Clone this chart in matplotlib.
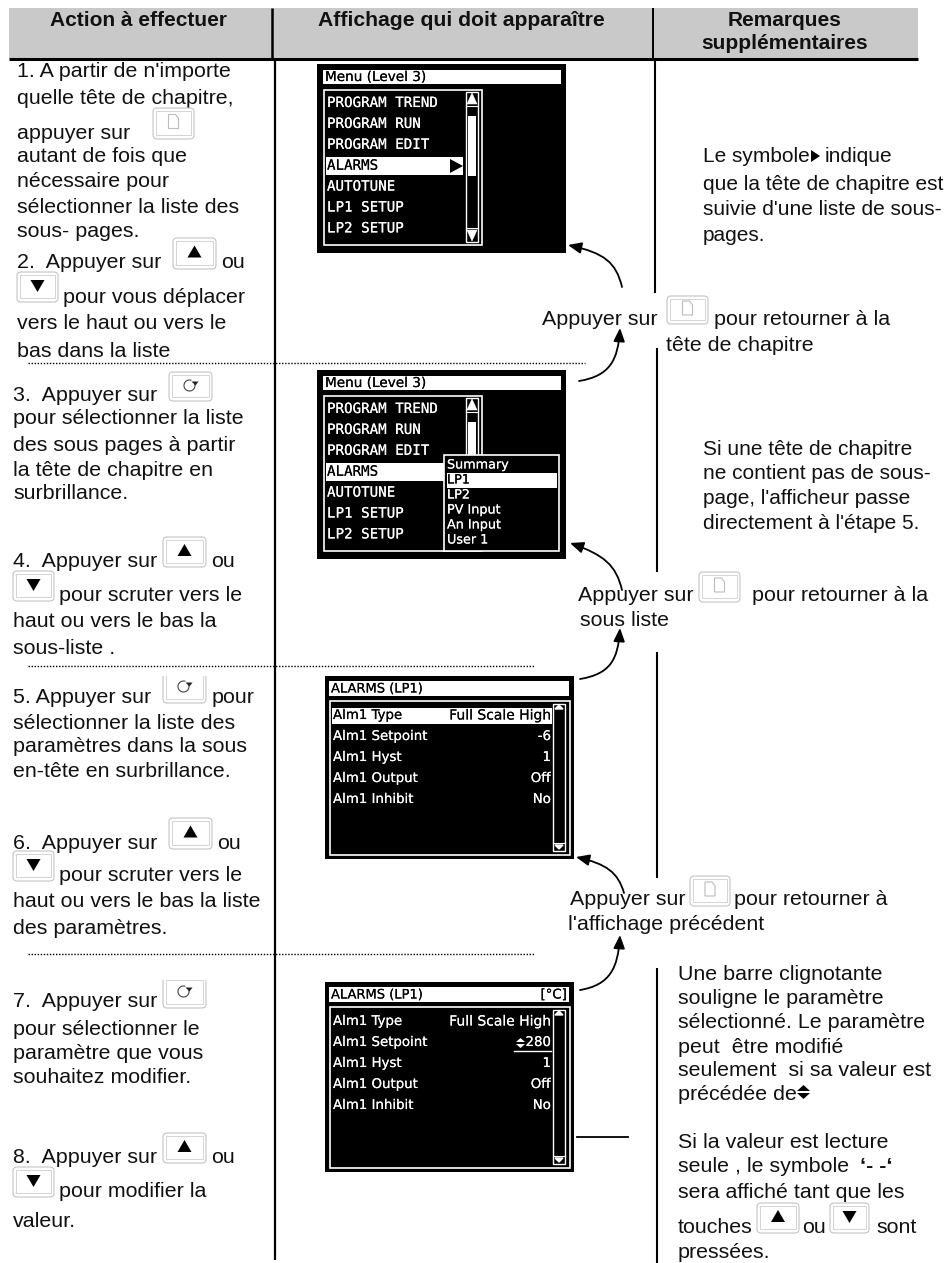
import matplotlib
matplotlib.use("Agg")
import matplotlib.pyplot as plt
import matplotlib.patheffects as pe
from matplotlib.patches import Rectangle, FancyBboxPatch, FancyArrowPatch, Arc, Polygon
from matplotlib.path import Path

# Textes de la page
HEADERS = ["Action à effectuer", "Affichage qui doit apparaître", "Remarques", "supplémentaires"]
STEP_1 = ["1. A partir de n'importe", "quelle tête de chapitre,", "appuyer sur", "autant de fois que",
          "nécessaire pour", "sélectionner la liste des", "sous- pages."]
STEP_2 = ["2.  Appuyer sur", "ou", "pour vous déplacer", "vers le haut ou vers le", "bas dans la liste"]
STEP_3 = ["3.  Appuyer sur", "pour sélectionner la liste", "des sous pages à partir",
          "la tête de chapitre en", "surbrillance."]
STEP_4 = ["4.  Appuyer sur", "ou", "pour scruter vers le", "haut ou vers le bas la", "sous-liste ."]
STEP_5 = ["5. Appuyer sur", "pour", "sélectionner la liste des", "paramètres dans la sous",
          "en-tête en surbrillance."]
STEP_6 = ["6.  Appuyer sur", "ou", "pour scruter vers le", "haut ou vers le bas la liste", "des paramètres."]
STEP_7 = ["7.  Appuyer sur", "pour sélectionner le", "paramètre que vous", "souhaitez modifier."]
STEP_8 = ["8.  Appuyer sur", "ou", "pour modifier la", "valeur."]

NOTE_1 = ["Le symbole", "indique", "que la tête de chapitre est", "suivie d'une liste de sous-", "pages."]
NOTE_2 = ["Si une tête de chapitre", "ne contient pas de sous-", "page, l'afficheur passe",
          "directement à l'étape 5."]
NOTE_3 = ["Une barre clignotante", "souligne le paramètre", "sélectionné. Le paramètre",
          "peut  être modifié", "seulement  si sa valeur est", "précédée de"]
NOTE_4 = ["Si la valeur est lecture", "seule , le symbole", "‘- -‘", "sera affiché tant que les",
          "touches", "ou", "sont", "pressées."]
BACK_1 = ["Appuyer sur", "pour retourner à la", "tête de chapitre"]
BACK_2 = ["Appuyer sur", "pour retourner à la", "sous liste"]
BACK_3 = ["Appuyer sur", "pour retourner à", "l'affichage précédent"]

MENU_TITLE = "Menu (Level 3)"
MENU_ITEMS = ["PROGRAM TREND", "PROGRAM RUN", "PROGRAM EDIT", "ALARMS", "AUTOTUNE", "LP1 SETUP", "LP2 SETUP"]
SUB_ITEMS = ["Summary", "LP1", "LP2", "PV Input", "An Input", "User 1"]
PARAM_TITLE = "ALARMS (LP1)"
PARAM_NAMES = ["Alm1 Type", "Alm1 Setpoint", "Alm1 Hyst", "Alm1 Output", "Alm1 Inhibit"]
PARAM_VALUES_A = ["Full Scale High", "-6", "1", "Off", "No"]
PARAM_VALUES_B = ["Full Scale High", "280", "1", "Off", "No"]

FONT = "Liberation Sans"
SIZE = 15.4
SIZE_NOTE = 15.0
GREY = "#c9c9c9"

fig = plt.figure(figsize=(9.44, 12.63), dpi=100)
ax = fig.add_axes([0, 0, 1, 1])
ax.set_xlim(0, 944)
ax.set_ylim(1263, 0)
ax.axis("off")


def txt(x, y, s, **kw):
    kw.setdefault("family", FONT)
    kw.setdefault("fontsize", SIZE)
    kw.setdefault("color", "#111111")
    kw.setdefault("va", "baseline")
    return ax.text(x, y, s, **kw)


def lines(x, ys, strings, **kw):
    for y, s in zip(ys, strings):
        txt(x, y, s, **kw)


def vline(x, y0, y1, lw=1.5):
    ax.plot([x, x], [y0, y1], color="black", lw=lw, solid_capstyle="butt")


def dots(x0, x1, y):
    ax.plot([x0, x1], [y, y], color="black", lw=1.0, ls=(0, (1, 1.2)))


def button(x0, y0, x1, y1, kind, clip_top=None):
    outer = FancyBboxPatch((x0 + 3, y0 + 3), x1 - x0 - 6, y1 - y0 - 6, boxstyle="round,pad=3,rounding_size=4",
                           fc="white", ec="#c4c4c4", lw=0.8, zorder=3)
    inner = Rectangle((x0 + 3, y0 + 3), x1 - x0 - 6, y1 - y0 - 7, fc="white", ec="#d4d4d4", lw=0.7, zorder=3)
    ax.add_patch(outer)
    ax.add_patch(inner)
    if clip_top is not None:
        clip = Rectangle((x0 - 3, clip_top), x1 - x0 + 6, y1 - clip_top + 3, transform=ax.transData)
        outer.set_clip_path(clip)
        inner.set_clip_path(clip)
    cx = (x0 + x1) / 2
    cy = (y0 + y1) / 2 - 1
    if kind == "up":
        ax.add_patch(Polygon([(cx - 7, cy + 5), (cx + 7, cy + 5), (cx, cy - 7)], fc="black", ec="none", zorder=4))
    elif kind == "down":
        ax.add_patch(Polygon([(cx - 7, cy - 6), (cx + 7, cy - 6), (cx, cy + 6)], fc="black", ec="none", zorder=4))
    elif kind == "page":
        ax.add_patch(Polygon([(cx - 5, cy - 8), (cx + 2, cy - 8), (cx + 5, cy - 4), (cx + 5, cy + 6), (cx - 5, cy + 6)],
                             fc="white", ec="#bcbcbc", lw=0.8, zorder=4))
    elif kind == "scroll":
        ax.add_patch(Arc((cx - 1, cy), 11, 11, theta1=-20, theta2=290, ec="#444444", lw=0.8, zorder=4))
        ax.add_patch(Polygon([(cx + 1, cy - 4), (cx + 8, cy - 4), (cx + 5, cy + 0)], fc="#222222", ec="none", zorder=4))


def curved(points):
    # points : queue, controle, controle, pointe
    path = Path(points, [Path.MOVETO, Path.CURVE4, Path.CURVE4, Path.CURVE4])
    ax.add_patch(FancyArrowPatch(path=path, arrowstyle="-|>,head_length=8,head_width=3.4", color="black",
                                 lw=1.3, mutation_scale=1, shrinkA=0, shrinkB=0, zorder=5))


def box(x0, y0, x1, y1, fc, ec="none", lw=1.0, zorder=2):
    ax.add_patch(Rectangle((x0, y0), x1 - x0, y1 - y0, fc=fc, ec=ec, lw=lw, zorder=zorder))


def lcd(x, y, s, color="white", size=9.6, mono=False, ha="left"):
    fam = "DejaVu Sans Mono" if mono else "DejaVu Sans"
    t = ax.text(x, y, s, family=fam, fontsize=size, color=color, va="center", ha=ha, zorder=6)
    t.set_path_effects([pe.withStroke(linewidth=0.08, foreground=color)])


def scrollbar(x0, x1, y0, y1, knob0, knob1):
    box(x0, y0, x1, y1, "black", ec="white", lw=1.0, zorder=3)
    box(x0 + 2, knob0, x1 - 2, knob1, "white", zorder=4)
    cx = (x0 + x1) / 2
    h = 12
    ax.add_patch(Polygon([(cx - 5, y0 + h), (cx + 5, y0 + h), (cx, y0 + 1)], fc="white", ec="white", lw=0.4, zorder=4))
    ax.add_patch(Polygon([(cx - 5, y1 - h), (cx + 5, y1 - h), (cx, y1 - 1)], fc="white", ec="white", lw=0.4, zorder=4))
    ax.plot([x0, x1], [y0 + h + 2, y0 + h + 2], color="white", lw=0.8, zorder=4)
    ax.plot([x0, x1], [y1 - h - 2, y1 - h - 2], color="white", lw=0.8, zorder=4)


def menu_screen(top):
    box(317, top, 566, top + 189, "black")
    box(323, top + 6, 561, top + 20, "white", zorder=3)
    lcd(325, top + 13, MENU_TITLE, color="black", size=9.8)
    box(324, top + 26, 482, top + 181, "black", ec="white", lw=1.2, zorder=3)
    for i, s in enumerate(MENU_ITEMS):
        yy = top + 39 + i * 20.9
        if s == "ALARMS":
            box(326, yy - 9, 463, yy + 9, "white", zorder=4)
            lcd(327, yy, s, color="black", mono=True, size=10.2)
        else:
            lcd(327, yy, s, mono=True, size=10.2)
    scrollbar(466, 478, top + 28, top + 178, top + 52, top + 112)


def param_screen(top, bottom, values, highlight, unit=False):
    box(325, top, 574, bottom, "black")
    box(329, top + 5, 569, top + 20, "white", zorder=3)
    lcd(331, top + 13, PARAM_TITLE, color="black", size=9.4)
    if unit:
        lcd(567, top + 13, "[°C]", color="black", size=9.6, ha="right")
    box(330, top + 25, 570, bottom - 4, "black", ec="white", lw=1.2, zorder=3)
    for i, (n, v) in enumerate(zip(PARAM_NAMES, values)):
        yy = top + 39.5 + i * 21
        col = "white"
        if highlight and i == 0:
            box(332, yy - 7.5, 552, yy + 8, "white", zorder=4)
            col = "black"
        lcd(333, yy, n, color=col)
        lcd(551, yy, v, color=col, ha="right", size=10 if i == 0 else 9.6)
    # barre de defilement fine
    box(553, top + 28, 565, bottom - 8, "black", ec="white", lw=1.0, zorder=4)
    ax.add_patch(Polygon([(555, top + 33), (563, top + 33), (559, top + 29)], fc="white", ec="white", zorder=5))
    ax.add_patch(Polygon([(555, bottom - 14), (563, bottom - 14), (559, bottom - 10)], fc="white", ec="white", zorder=5))
    ax.plot([553, 565], [bottom - 16, bottom - 16], color="white", lw=0.8, zorder=5)


def updown(x, y, w, h, color, zorder=7):
    # double fleche haut/bas, symbole absent des polices installees
    ax.add_patch(Polygon([(x, y - 1), (x + w, y - 1), (x + w / 2, y - 1 - h)], fc=color, ec="none", zorder=zorder))
    ax.add_patch(Polygon([(x, y + 1), (x + w, y + 1), (x + w / 2, y + 1 + h)], fc=color, ec="none", zorder=zorder))


# En-tete
box(9, 8, 918, 58, GREY, zorder=0)
ax.plot([9, 918], [59, 59], color="black", lw=2.2, solid_capstyle="butt")
txt(139, 26, HEADERS[0], ha="center", fontweight="bold", fontsize=15.0)
txt(461, 26, HEADERS[1], ha="center", fontweight="bold", fontsize=15.2)
txt(785, 26, HEADERS[2], ha="center", fontweight="bold", fontsize=15.0)
txt(785, 49, HEADERS[3], ha="center", fontweight="bold", fontsize=15.0)

# Separateurs de colonnes
vline(272, 8, 58, lw=1.8)
vline(275, 59, 1260, lw=1.6)
vline(653, 8, 58, lw=1.4)
vline(655, 60, 293)
vline(657, 348, 572)
vline(657, 652, 878)
vline(657, 968, 1263)
ax.plot([577, 628], [1137, 1137], color="black", lw=1.3)
dots(28, 585, 363)
dots(28, 535, 666)
dots(28, 535, 954)

# Colonne de gauche
lines(17, [77, 104, 139, 162, 187, 213, 237], STEP_1)
button(153, 108, 194, 139, "page")
txt(17, 268, STEP_2[0])
button(173, 238, 216, 269, "up")
txt(221, 268, STEP_2[1])
button(17, 272, 58, 302, "down")
txt(63, 303, STEP_2[2])
lines(17, [329, 357], STEP_2[3:])

lines(13, [401, 424, 451, 476, 499], STEP_3)
button(169, 372, 212, 401, "scroll")

txt(13, 567, STEP_4[0])
button(163, 537, 206, 567, "up")
txt(211, 567, STEP_4[1])
button(13, 571, 54, 601, "down")
txt(59, 601, STEP_4[2])
lines(13, [627, 654], STEP_4[3:])

txt(13, 703, STEP_5[0])
button(163, 672, 206, 703, "scroll", clip_top=676)
txt(212, 703, STEP_5[1])
lines(13, [729, 752, 777], STEP_5[2:])

txt(13, 849, STEP_6[0])
button(169, 818, 212, 849, "up")
txt(217, 849, STEP_6[1])
button(13, 851, 54, 881, "down")
txt(59, 881, STEP_6[2])
lines(13, [907, 934], STEP_6[3:])

lines(13, [1007, 1035, 1059, 1083], STEP_7)
button(163, 977, 206, 1008, "scroll", clip_top=980)

txt(13, 1163, STEP_8[0])
button(163, 1133, 206, 1163, "up")
txt(211, 1163, STEP_8[1])
button(13, 1167, 54, 1197, "down")
txt(59, 1197, STEP_8[2])
txt(13, 1227, STEP_8[3])

# Ecrans
menu_screen(64)
ax.add_patch(Polygon([(450, 159), (450, 173), (463, 166)], fc="black", ec="none", zorder=6))
menu_screen(370)
box(444, 455, 559, 551, "black", ec="white", lw=1.2, zorder=5)
box(447, 473, 557, 488, "white", zorder=5)
for i, s in enumerate(SUB_ITEMS):
    lcd(447, 465 + i * 15, s, color="black" if s == "LP1" else "white", size=9.2)
param_screen(676, 859, PARAM_VALUES_A, True)
param_screen(982, 1172, PARAM_VALUES_B, False, unit=True)
updown(516, 1043, 9, 4, "white")
ax.plot([514, 551], [1051, 1051], color="white", lw=1.0, zorder=7)

# Fleches
curved([(622, 287), (616, 262), (604, 253), (568, 245)])
curved([(579, 381), (610, 376), (618, 360), (620, 328)])
curved([(622, 590), (616, 565), (604, 555), (570, 543)])
curved([(580, 679), (610, 674), (618, 660), (620, 628)])
curved([(624, 893), (618, 872), (606, 864), (576, 857)])
curved([(580, 990), (610, 985), (618, 968), (620, 935)])

# Colonne de droite
txt(703, 162, NOTE_1[0], fontsize=SIZE_NOTE)
ax.add_patch(Polygon([(811, 150), (811, 162), (820, 156)], fc="black", ec="none"))
txt(825, 162, NOTE_1[1], fontsize=SIZE_NOTE)
lines(703, [190, 215, 241], NOTE_1[2:], fontsize=SIZE_NOTE)
lines(703, [455, 479, 504, 529], NOTE_2, fontsize=SIZE_NOTE)
lines(678, [980, 1004, 1028, 1053, 1076, 1100], NOTE_3)
updown(797, 1092, 13, 6, "black")
txt(678, 1148, NOTE_4[0])
txt(678, 1172, NOTE_4[1])
txt(860, 1172, NOTE_4[2], fontweight="bold")
txt(678, 1198, NOTE_4[3])
txt(678, 1233, NOTE_4[4])
button(757, 1203, 799, 1233, "up")
txt(802, 1233, NOTE_4[5])
button(830, 1203, 869, 1233, "down")
txt(876, 1233, NOTE_4[6])
txt(678, 1258, NOTE_4[7])

txt(542, 325, BACK_1[0])
button(667, 296, 708, 324, "page")
txt(714, 325, BACK_1[1])
txt(666, 351, BACK_1[2])

txt(578, 601, BACK_2[0])
button(699, 572, 740, 602, "page")
txt(752, 601, BACK_2[1])
txt(580, 626, BACK_2[2])

txt(570, 905, BACK_3[0])
button(690, 876, 730, 906, "page")
txt(734, 905, BACK_3[1])
txt(568, 930, BACK_3[2])

fig.savefig("out.png", dpi=100)
